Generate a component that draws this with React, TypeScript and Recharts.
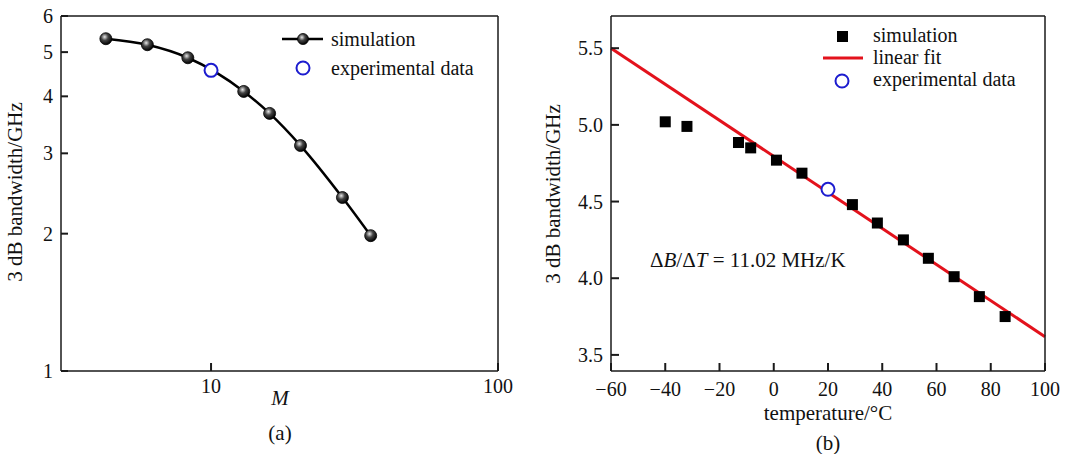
import React from 'react';
import { ComposedChart, Line, Scatter, XAxis, YAxis } from 'recharts';

const FONT = '"Liberation Serif", "Times New Roman", serif';
const BLUE = '#1c1ccf';
const RED = '#e3121c';
const FRAME = '#1a1a1a';

// (a) 3 dB bandwidth vs M (log-log)
const mValues = [4.3, 6, 8.3, 13, 16, 20.5, 28.7, 36];
const simBandwidthA = [5.35, 5.19, 4.86, 4.1, 3.67, 3.12, 2.4, 1.98];
const expM = [10];
const expBandwidthA = [4.56];
const xMajorA = [10, 100];
const xMinorA = [4, 5, 6, 7, 8, 9, 20, 30, 40, 50, 60, 70, 80, 90];
const yMajorA = [1, 2, 3, 4, 5, 6];

// (b) 3 dB bandwidth vs temperature
const temps = [-40, -32, -13, -8.5, 1, 10.4, 29, 38.2, 47.8, 57, 66.5, 75.8, 85.3];
const simBandwidthB = [5.02, 4.99, 4.885, 4.85, 4.77, 4.685, 4.48, 4.36, 4.25, 4.13, 4.01, 3.88, 3.75];
const fitTemps = [-60, 100];
const fitBandwidth = [5.5, 3.619];
const expTemp = [20];
const expBandwidthB = [4.58];
const xMajorB = [-60, -40, -20, 0, 20, 40, 60, 80, 100];
const xMinorB = [-50, -30, -10, 10, 30, 50, 70, 90];
const yMajorB = [3.5, 4, 4.5, 5, 5.5];
const yMinorB = [3.75, 4.25, 4.75, 5.25];

const zip = (xs: number[], ys: number[]) => xs.map((x, i) => ({ x, y: ys[i] }));

const simA = zip(mValues, simBandwidthA);
const expA = zip(expM, expBandwidthA);
const simB = zip(temps, simBandwidthB);
const fitB = zip(fitTemps, fitBandwidth);
const expB = zip(expTemp, expBandwidthB);

// minor ticks of the log y axis: 1.1 ... 5.9
const yMinorA: number[] = [];
yMajorA.slice(0, -1).forEach((d) => {
  for (let k = 1; k < 10; k++) yMinorA.push(+(d + k / 10).toFixed(1));
});

const fmtMinus = (v: number) => (v < 0 ? `\u2212${-v}` : `${v}`);
const blank = () => '';

const tickFont = { fontFamily: FONT, fontSize: 20, fill: '#111' };
const tickStroke = { stroke: FRAME, strokeWidth: 2 };
const frameLine = { stroke: FRAME, strokeWidth: 1.5 };

const Sphere = ({ cx, cy, r = 6 }: { cx: number; cy: number; r?: number }) => (
  <circle cx={cx} cy={cy} r={r} fill="url(#sphereGrad)" stroke="#000" strokeWidth={0.8} />
);

const OpenCircle = (p: any) => (
  <circle cx={p.cx} cy={p.cy} r={6.5} fill="#fff" stroke={BLUE} strokeWidth={2} />
);

const Square = (p: any) => <rect x={p.cx - 5.5} y={p.cy - 5.5} width={11} height={11} fill="#000" />;

const legendText = { fontFamily: FONT, fontSize: 20, fill: '#111' };

const LegendA = () => (
  <svg width={240} height={70} style={{ position: 'absolute', left: 270, top: 20, overflow: 'visible' }}>
    <defs>
      <radialGradient id="sphereGradL" cx="40%" cy="35%" r="65%">
        <stop offset="0%" stopColor="#e8e8e8" />
        <stop offset="45%" stopColor="#444" />
        <stop offset="100%" stopColor="#000" />
      </radialGradient>
    </defs>
    <line x1={12} x2={53} y1={19} y2={19} stroke="#000" strokeWidth={2.5} />
    <circle cx={33} cy={19} r={5.5} fill="url(#sphereGradL)" stroke="#000" strokeWidth={0.8} />
    <text x={61} y={26} {...legendText}>simulation</text>
    <circle cx={33} cy={48} r={6.5} fill="#fff" stroke={BLUE} strokeWidth={2} />
    <text x={61} y={55} {...legendText}>experimental data</text>
  </svg>
);

const LegendB = () => (
  <svg width={240} height={80} style={{ position: 'absolute', left: 818, top: 14, overflow: 'visible' }}>
    <rect x={19} y={17} width={11} height={11} fill="#000" />
    <text x={55} y={28} {...legendText}>simulation</text>
    <line x1={5} x2={45} y1={44} y2={44} stroke={RED} strokeWidth={3} />
    <text x={55} y={50} {...legendText}>linear fit</text>
    <circle cx={24} cy={67} r={6.5} fill="#fff" stroke={BLUE} strokeWidth={2} />
    <text x={55} y={72} {...legendText}>experimental data</text>
  </svg>
);

const title: React.CSSProperties = {
  position: 'absolute',
  fontFamily: FONT,
  fontSize: 21,
  color: '#111',
  whiteSpace: 'nowrap',
  lineHeight: 1,
  transform: 'translate(-50%, -50%)',
};

export default function App() {
  return (
    <div style={{ position: 'absolute', left: 0, top: 0, width: 1067, height: 454, background: '#fff', overflow: 'hidden' }}>
      <div style={{ position: 'absolute', left: 0, top: 0 }}>
        <ComposedChart width={540} height={454} margin={{ top: 15, right: 41, left: 59, bottom: 81 }}>
          <defs>
            <radialGradient id="sphereGrad" cx="40%" cy="35%" r="65%">
              <stop offset="0%" stopColor="#e8e8e8" />
              <stop offset="45%" stopColor="#444" />
              <stop offset="100%" stopColor="#000" />
            </radialGradient>
          </defs>
          <XAxis
            dataKey="x"
            type="number"
            scale="log"
            domain={[3, 100]}
            ticks={xMajorA}
            height={1}
            tickSize={-8}
            tickMargin={16}
            tickLine={tickStroke}
            axisLine={frameLine}
            tick={tickFont}
          />
          <XAxis
            xAxisId="minor"
            type="number"
            scale="log"
            domain={[3, 100]}
            ticks={xMinorA}
            height={1}
            tickSize={-6}
            tickLine={tickStroke}
            axisLine={false}
            tickFormatter={blank}
          />
          <XAxis xAxisId="top" orientation="top" type="number" domain={[0, 1]} height={1} tick={false} tickLine={false} axisLine={frameLine} />
          <YAxis
            dataKey="y"
            type="number"
            scale="log"
            domain={[1, 6]}
            ticks={yMajorA}
            width={1}
            tickSize={-7}
            tickMargin={15}
            tickLine={tickStroke}
            axisLine={frameLine}
            tick={tickFont}
          />
          <YAxis
            yAxisId="minor"
            type="number"
            scale="log"
            domain={[1, 6]}
            ticks={yMinorA}
            width={1}
            tickSize={-5}
            tickLine={tickStroke}
            axisLine={false}
            tickFormatter={blank}
          />
          <YAxis yAxisId="right" orientation="right" type="number" domain={[0, 1]} width={1} tick={false} tickLine={false} axisLine={frameLine} />
          <Line
            data={simA}
            dataKey="y"
            type="monotone"
            stroke="#000"
            strokeWidth={2.5}
            dot={(p: any) => <Sphere key={`d${p.index}`} cx={p.cx} cy={p.cy} />}
            isAnimationActive={false}
          />
          <Scatter data={expA} shape={OpenCircle} isAnimationActive={false} />
        </ComposedChart>
      </div>

      <div style={{ position: 'absolute', left: 540, top: 0 }}>
        <ComposedChart width={527} height={454} margin={{ top: 15, right: 21, left: 69, bottom: 81 }}>
          <XAxis
            dataKey="x"
            type="number"
            domain={[-60, 100]}
            ticks={xMajorB}
            height={1}
            tickSize={-8}
            tickMargin={19}
            tickLine={tickStroke}
            axisLine={frameLine}
            tick={tickFont}
            tickFormatter={fmtMinus}
          />
          <XAxis
            xAxisId="minor"
            type="number"
            domain={[-60, 100]}
            ticks={xMinorB}
            height={1}
            tickSize={-6}
            tickLine={tickStroke}
            axisLine={false}
            tickFormatter={blank}
          />
          <XAxis xAxisId="top" orientation="top" type="number" domain={[0, 1]} height={1} tick={false} tickLine={false} axisLine={frameLine} />
          <YAxis
            dataKey="y"
            type="number"
            domain={[3.395, 5.71]}
            ticks={yMajorB}
            width={1}
            tickSize={-8}
            tickMargin={16}
            tickLine={tickStroke}
            axisLine={frameLine}
            tick={tickFont}
            tickFormatter={(v: number) => v.toFixed(1)}
          />
          <YAxis
            yAxisId="minor"
            type="number"
            domain={[3.395, 5.71]}
            ticks={yMinorB}
            width={1}
            tickSize={-6}
            tickLine={tickStroke}
            axisLine={false}
            tickFormatter={blank}
          />
          <YAxis yAxisId="right" orientation="right" type="number" domain={[0, 1]} width={1} tick={false} tickLine={false} axisLine={frameLine} />
          <Line data={fitB} dataKey="y" type="linear" stroke={RED} strokeWidth={3} dot={false} isAnimationActive={false} />
          <Scatter data={simB} shape={Square} isAnimationActive={false} />
          <Scatter data={expB} shape={OpenCircle} isAnimationActive={false} />
        </ComposedChart>
      </div>

      <LegendA />
      <LegendB />

      <div style={{ ...title, left: 15, top: 192, transform: 'translate(-50%, -50%) rotate(-90deg)' }}>3 dB bandwidth/GHz</div>
      <div style={{ ...title, left: 280, top: 398, fontStyle: 'italic' }}>M</div>
      <div style={{ ...title, left: 280, top: 433 }}>(a)</div>

      <div style={{ ...title, left: 553, top: 194, transform: 'translate(-50%, -50%) rotate(-90deg)' }}>3 dB bandwidth/GHz</div>
      <div style={{ ...title, left: 828, top: 413 }}>temperature/°C</div>
      <div style={{ ...title, left: 828, top: 443 }}>(b)</div>
      <div style={{ ...title, left: 650, top: 260, transform: 'translate(0, -50%)' }}>
        Δ<i>B</i>/Δ<i>T</i> = 11.02 MHz/K
      </div>
    </div>
  );
}
